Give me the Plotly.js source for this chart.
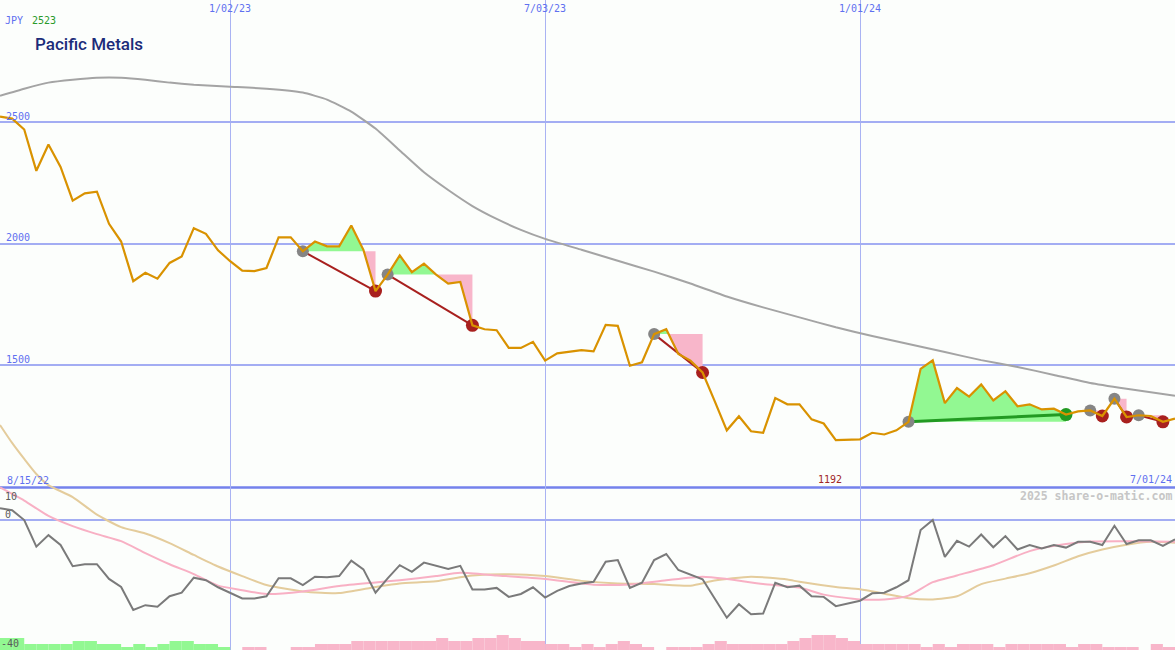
<!DOCTYPE html>
<html>
<head>
<meta charset="utf-8">
<script src="https://cdn.plot.ly/plotly-3.0.1.min.js"></script>
<style>
html,body{margin:0;padding:0;background:#fcfefc;}
#chart{width:1175px;height:650px;}
</style>
</head>
<body>
<div id="chart"></div>
<script>
// ---------- data ----------
const dates = [
'2022-08-22','2022-08-29','2022-09-05','2022-09-12','2022-09-19','2022-09-26','2022-10-03','2022-10-10','2022-10-17','2022-10-24','2022-10-31','2022-11-07','2022-11-14','2022-11-21','2022-11-28','2022-12-05','2022-12-12','2022-12-19','2022-12-26',
'2023-01-02','2023-01-09','2023-01-16','2023-01-23','2023-01-30','2023-02-06','2023-02-13','2023-02-20','2023-02-27','2023-03-06','2023-03-13','2023-03-20','2023-03-27','2023-04-03','2023-04-10','2023-04-17','2023-04-24','2023-05-01','2023-05-08','2023-05-15','2023-05-22','2023-05-29','2023-06-05','2023-06-12','2023-06-19','2023-06-26',
'2023-07-03','2023-07-10','2023-07-17','2023-07-24','2023-07-31','2023-08-07','2023-08-14','2023-08-21','2023-08-28','2023-09-04','2023-09-11','2023-09-18','2023-09-25','2023-10-02','2023-10-09','2023-10-16','2023-10-23','2023-10-30','2023-11-06','2023-11-13','2023-11-20','2023-11-27','2023-12-04','2023-12-11','2023-12-18','2023-12-25',
'2024-01-01','2024-01-08','2024-01-15','2024-01-22','2024-01-29','2024-02-05','2024-02-12','2024-02-19','2024-02-26','2024-03-04','2024-03-11','2024-03-18','2024-03-25','2024-04-01','2024-04-08','2024-04-15','2024-04-22','2024-04-29','2024-05-06','2024-05-13','2024-05-20','2024-05-27','2024-06-03','2024-06-10','2024-06-17','2024-06-24','2024-07-01'
];

const price = [
2523,2515,2470,2300,2408,2316,2177,2207,2214,2082,2009,1846,1880,1856,1921,1948,2064,2041,1973,1928,
1889,1887,1900,2026,2026,1969,2009,1989,1989,2075,1975,1805,1873,1952,1883,1918,1873,1836,1843,1664,
1648,1644,1571,1571,1596,1519,1549,1557,1562,1557,1666,1662,1498,1512,1628,1648,1546,1519,1470,1352,
1232,1290,1228,1222,1365,1339,1339,1277,1260,1192,1195,1195,1222,1215,1232,1267,1485,1520,1344,1406,
1371,1421,1355,1393,1331,1339,1318,1321,1297,1310,1314,1291,1362,1287,1294,1291,1267,1280
];

// long moving average (grey), read at selected weeks
const maIdx  = [0,2,4,6,8,10,12,14,16,19,22,25,27,29,31,33,35,37,39,41,43,45,48,51,54,57,60,63,66,69,72,75,78,81,84,87,90,93,97];
const maVals = [2609,2638,2663,2675,2683,2683,2675,2663,2654,2646,2638,2622,2593,2544,2474,2384,2294,2221,2155,2102,2057,2020,1975,1930,1885,1836,1783,1738,1697,1656,1620,1587,1554,1521,1493,1460,1427,1403,1374];

// lower panel oscillator (dark grey)
const osc = [
3.7,3.1,0,-8.3,-4.7,-7.8,-14.4,-13.8,-13.8,-18.4,-20.9,-28.1,-26.6,-27.1,-23.8,-22.7,-18.0,-18.8,-21.0,-22.7,
-24.5,-24.5,-23.8,-18.2,-18.2,-20.3,-17.7,-17.9,-17.5,-12.7,-15.4,-22.7,-18.2,-14.1,-16.2,-13.3,-14.3,-15.3,-14.3,-21.7,
-21.7,-21.2,-24.0,-23.1,-21.0,-24.2,-22.1,-20.6,-19.8,-19.3,-13.0,-12.5,-21.2,-19.6,-12.5,-10.6,-15.6,-17.0,-18.5,-24.5,
-30.5,-26.3,-29.4,-29.2,-19.6,-21.0,-20.5,-23.8,-24.0,-26.9,-26.0,-25.2,-22.9,-22.7,-21.0,-18.8,-3.1,0,-11.5,-6.5,
-8.3,-4.5,-8.5,-5.0,-9.2,-7.8,-8.9,-7.8,-8.6,-6.8,-6.8,-7.8,-1.8,-7.5,-6.3,-6.3,-8.1,-6.0
];

// pink signal line
const pinkIdx  = [0,2,4,6,8,10,12,14,16,18,20,22,25,28,31,33,36,38,41,45,49,52,55,58,60,63,66,68,71,73,75,77,79,82,85,88,90,93,97];
const pinkVals = [10.2,6.1,1.3,-1.9,-4.4,-6.6,-10.3,-13.8,-16.9,-20.5,-21.9,-23.1,-22.3,-20.6,-19.5,-18.8,-17.5,-16.5,-17.3,-18.4,-20.2,-20.1,-18.8,-17.7,-18.4,-20.0,-21.1,-23.3,-24.8,-24.8,-23.6,-19.4,-17.3,-14.1,-9.7,-7.5,-6.7,-6.6,-6.8];

// tan slow line
const tanIdx  = [0,1,2,3,4,6,8,10,12,14,16,18,20,22,25,28,31,33,36,39,42,45,48,51,54,57,59,62,65,66,69,71,73,75,77,79,81,83,85,87,89,91,93,95,97];
const tanVals = [29.7,24.1,19.1,14.4,10.9,7.2,1.7,-2.2,-4.2,-7.2,-10.9,-14.5,-17.5,-20.3,-22.3,-22.8,-20.9,-19.8,-19.1,-17.3,-16.9,-17.5,-19.0,-19.8,-20.0,-20.5,-18.9,-17.7,-18.6,-19.3,-20.9,-21.6,-23.0,-24.4,-24.8,-23.8,-20.0,-18.3,-16.6,-14.2,-11.3,-9.2,-7.7,-6.8,-7.1];

// weekly histogram levels (green before 1/02/23, pink after)
const greenBars = [4,4,2,2,2,2,3,3,2,2,1,2,1,2,3,3,2,2,1];
const pinkBars = [
0,1,1,0,0,1,1,2,2,2,3,3,3,3,3,3,3,4,3,3,
4,4,5,4,3,3,2,2,1,2,1,2,3,2,1,0,1,1,1,2,
3,2,2,2,2,2,3,4,5,5,4,3,2,2,2,2,2,1,2,1,
2,2,2,1,2,2,2,2,2,1,2,2,1,1,1,0,2,1
];

// signals: start week (grey dot) -> end week
const sigStart = [25,32,54,75,90,92,94];
const sigEnd   = [31,39,58,88,91,93,96];
const sigWin   = [false,false,false,true,false,false,false];

const gridDates  = ['2023-01-02','2023-07-03','2024-01-01'];
const gridLabels = ['1/02/23','7/03/23','1/01/24'];
const priceTicks = [2500,2000,1500];

// ---------- build ----------
const T = dates.map(d => Date.parse(d + 'T00:00:00Z'));
const WEEK = 7*86400000;
const traces = [];

// histogram bars (own axis)
traces.push({type:'bar', x: dates.slice(0, greenBars.length), y: greenBars, yaxis:'y3',
  width: WEEK, offset: 0, marker:{color:'#92f892', line:{width:0}}, hoverinfo:'skip'});
traces.push({type:'bar', x: dates.slice(greenBars.length, greenBars.length + pinkBars.length), y: pinkBars, yaxis:'y3',
  width: WEEK, offset: 0, marker:{color:'#f8b6ca', line:{width:0}}, hoverinfo:'skip'});

// fills
function sigPts(s, e, L) {
  const pts = [];
  for (let i = s; i <= e; i++) {
    pts.push([T[i], price[i]]);
    if (i < e) {
      const a = price[i]-L, b = price[i+1]-L;
      if (a*b < 0) { const f = a/(a-b); pts.push([T[i] + f*(T[i+1]-T[i]), L]); }
    }
  }
  return pts;
}
sigStart.forEach((s, j) => {
  const e = sigEnd[j], L = price[s];
  const pts = sigPts(s, e, L);
  const xs = pts.map(p => p[0]).concat([T[e], T[s]]);
  const gy = pts.map(p => Math.max(p[1], L)).concat([L, L]);
  const py = pts.map(p => Math.min(p[1], L)).concat([L, L]);
  traces.push({type:'scatter', mode:'lines', x: xs, y: gy, fill:'toself', fillcolor:'#92f892',
    line:{width:0}, hoverinfo:'skip'});
  traces.push({type:'scatter', mode:'lines', x: xs, y: py, fill:'toself', fillcolor:'#f8b6ca',
    line:{width:0}, hoverinfo:'skip'});
});

// grey moving average
traces.push({type:'scatter', mode:'lines', x: maIdx.map(i => dates[i]), y: maVals,
  line:{color:'#a4a4a4', width:2, shape:'spline', smoothing:0.4}, hoverinfo:'skip'});

// trend lines
const redX = [], redY = [], grnX = [], grnY = [];
sigStart.forEach((s, j) => {
  const e = sigEnd[j];
  const X = sigWin[j] ? grnX : redX, Y = sigWin[j] ? grnY : redY;
  X.push(dates[s], dates[e], null); Y.push(price[s], price[e], null);
});
traces.push({type:'scatter', mode:'lines', x: redX, y: redY, line:{color:'#a8201e', width:2}, hoverinfo:'skip', connectgaps:false});
traces.push({type:'scatter', mode:'lines', x: grnX, y: grnY, line:{color:'#229a22', width:3}, hoverinfo:'skip', connectgaps:false});

// markers
traces.push({type:'scatter', mode:'markers', x: sigStart.map(i => dates[i]), y: sigStart.map(i => price[i]),
  marker:{color:'#858585', size:12}, hoverinfo:'skip'});
const redEnds = sigEnd.filter((e, j) => !sigWin[j]);
const grnEnds = sigEnd.filter((e, j) => sigWin[j]);
traces.push({type:'scatter', mode:'markers', x: redEnds.map(i => dates[i]), y: redEnds.map(i => price[i]),
  marker:{color:'#a8201e', size:13}, hoverinfo:'skip'});
traces.push({type:'scatter', mode:'markers', x: grnEnds.map(i => dates[i]), y: grnEnds.map(i => price[i]),
  marker:{color:'#229a22', size:13}, hoverinfo:'skip'});

// price line
traces.push({type:'scatter', mode:'lines', x: dates, y: price, line:{color:'#d99200', width:2.2}, hoverinfo:'skip'});

// lower panel lines
traces.push({type:'scatter', mode:'lines', x: tanIdx.map(i => dates[i]), y: tanVals, yaxis:'y2',
  line:{color:'#e4cc9c', width:2, shape:'spline', smoothing:0.6}, hoverinfo:'skip'});
traces.push({type:'scatter', mode:'lines', x: pinkIdx.map(i => dates[i]), y: pinkVals, yaxis:'y2',
  line:{color:'#f8b0c4', width:2, shape:'spline', smoothing:0.6}, hoverinfo:'skip'});
traces.push({type:'scatter', mode:'lines', x: dates, y: osc, yaxis:'y2',
  line:{color:'#7a7a7a', width:2}, hoverinfo:'skip'});

// ---------- layout ----------
const W = 1175, H = 650;
const mono = 'DejaVu Sans Mono, monospace';
const blue = '#5f70f0';
function py(p) { return 1 - p / H; }
function px(p) { return p / W; }
const ann = [];
gridDates.forEach((d, i) => ann.push({x: d, xref:'x', y: py(9), yref:'paper', text: gridLabels[i],
  showarrow:false, xanchor:'center', yanchor:'middle', font:{family:mono, size:10, color:blue}}));
priceTicks.forEach(v => ann.push({x: px(4), xref:'paper', y: v, yref:'y', yshift: 6, text: String(v),
  showarrow:false, xanchor:'left', yanchor:'middle', font:{family:mono, size:10, color:blue}}));
ann.push({x: px(3), xref:'paper', y: py(20), yref:'paper', text:'JPY', showarrow:false, xanchor:'left', yanchor:'middle', font:{family:mono, size:10, color:blue}});
ann.push({x: px(30), xref:'paper', y: py(20), yref:'paper', text: String(price[0]), showarrow:false, xanchor:'left', yanchor:'middle', font:{family:mono, size:10, color:'#2a9a2a'}});
ann.push({x: px(33), xref:'paper', y: py(44), yref:'paper', text:'Pacific Metals', showarrow:false, xanchor:'left', yanchor:'middle', font:{family:'Roboto, Noto Sans, sans-serif', size:17, weight:500, color:'#1c2c7a'}});
ann.push({x: px(5), xref:'paper', y: py(480), yref:'paper', text:'8/15/22', showarrow:false, xanchor:'left', yanchor:'middle', font:{family:mono, size:10, color:blue}});
ann.push({x: px(830), xref:'paper', y: py(479), yref:'paper', text: String(Math.min.apply(null, price)), showarrow:false, xanchor:'center', yanchor:'middle', font:{family:mono, size:10, color:'#a02626'}});
ann.push({x: px(1174), xref:'paper', y: py(479), yref:'paper', text:'7/01/24', showarrow:false, xanchor:'right', yanchor:'middle', font:{family:mono, size:10, color:blue}});
ann.push({x: px(3), xref:'paper', y: py(496), yref:'paper', text:'10', showarrow:false, xanchor:'left', yanchor:'middle', font:{family:mono, size:10, color:'#5a5a5a'}});
ann.push({x: px(3), xref:'paper', y: py(514), yref:'paper', text:'0', showarrow:false, xanchor:'left', yanchor:'middle', font:{family:mono, size:10, color:'#5a5a5a'}});
ann.push({x: px(-1), xref:'paper', y: py(643), yref:'paper', text:'-40', showarrow:false, xanchor:'left', yanchor:'middle', font:{family:mono, size:10, color:'#5a5a5a'}});
ann.push({x: px(1174), xref:'paper', y: py(496), yref:'paper', text:'<b>2025 share-o-matic.com</b>', showarrow:false, xanchor:'right', yanchor:'middle', font:{family:mono, size:11.5, color:'#c6c6c6'}});

const layout = {
  width: W, height: H,
  margin: {l:0, r:0, t:0, b:0, pad:0},
  paper_bgcolor: '#fcfefc', plot_bgcolor: '#fcfefc',
  showlegend: false,
  barmode: 'overlay',
  xaxis: {type:'date', range:['2022-08-22','2024-07-01'], domain:[0,1],
    tickvals: gridDates, showticklabels:false, ticks:'', showgrid:true, gridcolor:'#a9b3f3', gridwidth:1,
    zeroline:false, showline:false, fixedrange:true},
  yaxis: {range:[328, 3003], domain:[0,1], tickvals: priceTicks, showticklabels:false, ticks:'',
    showgrid:true, gridcolor:'#a3adf3', gridwidth:2, zeroline:false, showline:false, fixedrange:true},
  yaxis2: {range:[-40.6, 162.5], domain:[0,1], overlaying:'y', tickvals:[0], showticklabels:false, ticks:'',
    showgrid:true, gridcolor:'#a3adf3', gridwidth:2, zeroline:false, showline:false, fixedrange:true},
  yaxis3: {range:[0, H/3], domain:[0,1], overlaying:'y', showticklabels:false, ticks:'', showgrid:false,
    zeroline:false, showline:false, fixedrange:true},
  shapes: [
    {type:'line', xref:'paper', x0:0, x1:1, yref:'y2', y0:10.2, y1:10.2, line:{color:'#7482ec', width:2.5}, layer:'below'}
  ],
  annotations: ann
};

Plotly.newPlot('chart', traces, layout, {displayModeBar:false, staticPlot:true});
</script>
</body>
</html>
